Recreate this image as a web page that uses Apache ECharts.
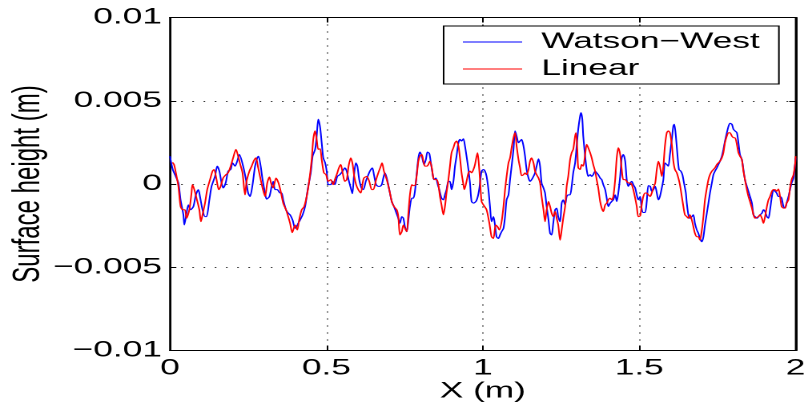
<!DOCTYPE html>
<html>
<head>
<meta charset="utf-8">
<script src="https://cdn.jsdelivr.net/npm/echarts@6/dist/echarts.min.js"></script>
<style>
  html, body { margin: 0; padding: 0; background: #fff; overflow: hidden; }
  /* The figure is laid out narrow and widened horizontally, like a stretched MATLAB export */
  #chart { width: 502px; height: 407px; transform: scaleX(1.6016); transform-origin: 0 0; }
</style>
</head>
<body>
<div id="chart"></div>
<script>
// Axis ranges and tick spacing (metres)
const xRange = [0, 2];
const xStep = 0.5;
const yRange = [-0.01, 0.01];
const yStep = 0.005;

const seriesNames = ['Watson\u2212West', 'Linear'];

// Surface height profile from the Watson-West model: [x (m), height (m)]
const watsonWest = [
  [0.000,0.00167],[0.009,0.00087],[0.016,0.00056],[0.027,0.00006],[0.034,-0.00095],[0.043,-0.00185],[0.046,-0.00246],[0.053,-0.00175],[0.059,-0.00125],[0.066,-0.00155],[0.075,-0.00135],[0.083,-0.00065],[0.091,-0.00034],[0.096,-0.00075],[0.104,-0.00155],[0.112,-0.00196],[0.117,-0.00196],[0.126,-0.00095],[0.133,-0.00014],[0.144,0.00046],[0.151,0.00107],[0.158,0.00077],[0.165,0.00006],[0.170,-0.00024],[0.178,0.00006],[0.186,0.00077],[0.194,0.00087],[0.200,0.00127],[0.208,0.00107],[0.215,0.00137],[0.222,0.00177],
  [0.234,0.00107],[0.243,0.00026],[0.250,-0.00054],[0.256,-0.00075],[0.264,-0.00004],[0.272,0.00107],[0.279,0.00157],[0.283,0.00167],[0.290,0.00107],[0.296,0.00026],[0.304,-0.00054],[0.309,-0.00091],[0.318,-0.00075],[0.325,-0.00014],[0.330,0.00016],[0.336,-0.00034],[0.343,-0.00034],[0.352,-0.00054],[0.357,-0.00054],[0.362,-0.00095],[0.371,-0.00155],[0.378,-0.00175],[0.384,-0.00185],[0.392,-0.00216],[0.400,-0.00266],[0.405,-0.00256],[0.410,-0.00236],[0.416,-0.00216],[0.424,-0.00185],[0.432,-0.00135],[0.437,-0.00075],[0.442,-0.00014],[0.450,0.00067],[0.456,0.00167],[0.464,0.00208],[0.469,0.00288],[0.474,0.00389],
  [0.480,0.00340],[0.485,0.00248],[0.490,0.00157],[0.496,0.00127],[0.501,0.00077],[0.506,-0.00004],[0.514,-0.00004],[0.520,0.00016],[0.527,-0.00004],[0.535,0.00046],[0.543,0.00056],[0.552,0.00077],[0.559,0.00097],[0.565,0.00077],[0.571,0.00026],[0.578,-0.00024],[0.583,-0.00058],[0.588,0.00046],[0.594,0.00127],[0.599,0.00107],[0.605,0.00026],[0.612,-0.00024],[0.618,-0.00034],[0.626,0.00016],[0.632,0.00046],[0.639,0.00077],[0.647,0.00097],[0.652,0.00056],[0.659,-0.00004],[0.666,-0.00014],[0.671,-0.00014],[0.677,-0.00004],[0.682,0.00036],[0.687,0.00067],[0.693,0.00036],[0.701,-0.00034],[0.709,-0.00105],[0.716,-0.00135],[0.722,-0.00165],[0.730,-0.00206],
  [0.735,-0.00236],[0.741,-0.00196],[0.746,-0.00206],[0.751,-0.00256],[0.757,-0.00286],[0.762,-0.00216],[0.767,-0.00135],[0.773,-0.00085],[0.778,-0.00085],[0.783,-0.00044],[0.789,0.00067],[0.794,0.00157],[0.799,0.00192],[0.805,0.00167],[0.812,0.00117],[0.818,0.00147],[0.823,0.00192],[0.829,0.00183],[0.834,0.00127],[0.840,0.00056],[0.844,0.00026],[0.850,0.00036],[0.856,-0.00004],[0.861,-0.00034],[0.868,-0.00085],[0.874,-0.00095],[0.879,-0.00065],[0.884,-0.00034],[0.890,0.00016],[0.895,0.00016],[0.900,-0.00034],[0.906,0.00016],[0.911,0.00107],[0.916,0.00167],[0.922,0.00248],[0.927,0.00268],[0.932,0.00258],[0.938,0.00272],[0.943,0.00228],[0.948,0.00167],[0.954,0.00087],[0.959,0.00006],[0.964,-0.00105],[0.970,-0.00115],[0.978,-0.00105],[0.984,-0.00075],[0.989,-0.00024],
  [0.996,0.00077],[1.002,0.00087],[1.007,0.00077],[1.012,0.00046],[1.018,-0.00034],[1.023,-0.00135],[1.028,-0.00226],[1.034,-0.00196],[1.039,-0.00246],[1.044,-0.00317],[1.050,-0.00327],[1.055,-0.00306],[1.060,-0.00286],[1.066,-0.00266],[1.071,-0.00196],[1.076,-0.00095],[1.082,-0.00065],[1.087,0.00026],[1.092,0.00107],[1.098,0.00208],[1.103,0.00319],[1.108,0.00288],[1.114,0.00248],[1.119,0.00258],[1.124,0.00268],[1.130,0.00228],[1.135,0.00167],[1.140,0.00087],[1.146,0.00036],[1.151,0.00016],[1.156,0.00026],[1.162,0.00046],[1.167,0.00067],[1.172,0.00107],[1.178,0.00151],[1.183,0.00107],[1.188,0.00006],[1.194,-0.00024],[1.199,-0.00054],[1.204,-0.00135],[1.210,-0.00216],[1.215,-0.00296],[1.220,-0.00306],[1.225,-0.00236],[1.231,-0.00155],[1.236,-0.00145],[1.241,-0.00196],
  [1.247,-0.00226],[1.252,-0.00115],[1.257,-0.00095],[1.263,-0.00125],[1.268,-0.00075],[1.273,-0.00065],[1.279,-0.00065],[1.284,-0.00014],[1.289,0.00067],[1.295,0.00127],[1.300,0.00228],[1.305,0.00329],[1.311,0.00409],[1.314,0.00429],[1.318,0.00389],[1.321,0.00288],[1.327,0.00167],[1.332,0.00087],[1.337,0.00046],[1.343,0.00056],[1.348,0.00046],[1.353,0.00056],[1.359,0.00077],[1.364,0.00067],[1.369,0.00056],[1.375,0.00036],[1.380,0.00026],[1.385,-0.00004],[1.391,-0.00034],[1.396,-0.00085],[1.401,-0.00135],[1.407,-0.00115],[1.412,-0.00105],[1.417,-0.00095],[1.423,-0.00065],[1.428,-0.00105],[1.433,-0.00054],[1.439,0.00046],[1.444,0.00157],[1.449,0.00177],[1.455,0.00137],[1.460,0.00026],[1.465,-0.00014],[1.471,0.00006],[1.476,0.00016],[1.481,-0.00004],[1.487,-0.00024],[1.492,-0.00065],[1.497,-0.00095],
  [1.503,-0.00075],[1.508,-0.00151],[1.513,-0.00171],[1.519,-0.00171],[1.524,-0.00105],[1.529,-0.00010],[1.535,-0.00014],[1.540,-0.00044],[1.545,-0.00034],[1.551,-0.00014],[1.556,-0.00054],[1.561,-0.00095],[1.566,-0.00075],[1.572,-0.00024],[1.577,0.00026],[1.582,0.00127],[1.588,0.00117],[1.593,0.00107],[1.598,0.00177],[1.604,0.00268],[1.609,0.00349],[1.612,0.00359],[1.617,0.00288],[1.622,0.00177],[1.627,0.00087],[1.633,0.00077],[1.638,0.00056],[1.643,0.00006],[1.649,-0.00054],[1.652,-0.00115],[1.657,-0.00185],[1.662,-0.00206],[1.668,-0.00196],[1.673,-0.00185],[1.678,-0.00236],[1.684,-0.00276],[1.689,-0.00296],[1.694,-0.00327],[1.700,-0.00347],[1.705,-0.00317],[1.710,-0.00246],[1.716,-0.00175],[1.721,-0.00115],[1.726,-0.00054],[1.732,0.00006],[1.737,0.00056],[1.742,0.00077],[1.748,0.00097],[1.753,0.00117],
  [1.758,0.00137],[1.764,0.00167],[1.769,0.00208],[1.774,0.00258],[1.780,0.00308],[1.785,0.00345],[1.790,0.00365],[1.796,0.00359],[1.801,0.00329],[1.806,0.00319],[1.812,0.00308],[1.817,0.00248],[1.822,0.00177],[1.828,0.00147],[1.833,0.00087],[1.838,0.00026],[1.844,-0.00014],[1.849,-0.00044],[1.854,-0.00075],[1.860,-0.00115],[1.865,-0.00185],[1.870,-0.00196],[1.876,-0.00206],[1.881,-0.00196],[1.886,-0.00185],[1.892,-0.00175],[1.897,-0.00155],[1.902,-0.00165],[1.908,-0.00196],[1.913,-0.00206],[1.918,-0.00155],[1.924,-0.00075],[1.929,-0.00034],[1.934,-0.00044],[1.939,-0.00054],[1.945,-0.00075],[1.950,-0.00075],[1.955,-0.00085],[1.961,-0.00135],[1.966,-0.00145],[1.971,-0.00115],[1.977,-0.00075],[1.982,-0.00034],[1.987,0.00006],[1.993,0.00036],[1.998,0.00117],[2.000,0.00157]
];

// Surface height profile from linear wave theory: [x (m), height (m)]
const linear = [
  [0.008,0.00130],[0.013,0.00117],[0.019,0.00067],[0.027,-0.00014],[0.034,-0.00135],[0.041,-0.00155],[0.048,-0.00155],[0.053,-0.00206],[0.062,-0.00155],[0.069,-0.00054],[0.072,-0.00004],[0.078,-0.00034],[0.085,-0.00085],[0.094,-0.00155],[0.099,-0.00226],[0.104,-0.00185],[0.112,-0.00115],[0.119,-0.00034],[0.128,0.00026],[0.136,0.00077],[0.141,0.00087],[0.149,0.00026],[0.156,-0.00034],[0.162,-0.00014],[0.170,0.00036],[0.179,0.00056],[0.186,0.00067],[0.194,0.00107],[0.202,0.00157],[0.211,0.00208],[0.218,0.00167],
  [0.224,0.00123],[0.232,0.00067],[0.240,-0.00065],[0.245,0.00016],[0.254,0.00077],[0.261,0.00107],[0.269,0.00143],[0.275,0.00157],[0.282,0.00097],[0.290,0.00026],[0.296,-0.00024],[0.304,-0.00075],[0.311,0.00006],[0.318,0.00042],[0.323,0.00006],[0.330,-0.00024],[0.339,0.00036],[0.347,0.00006],[0.354,-0.00044],[0.362,-0.00115],[0.371,-0.00155],[0.378,-0.00196],[0.384,-0.00236],[0.391,-0.00292],[0.400,-0.00246],[0.407,-0.00276],[0.413,-0.00216],[0.421,-0.00155],[0.429,-0.00135],[0.437,-0.00075],[0.445,0.00016],[0.453,0.00147],[0.458,0.00268],[0.464,0.00319],[0.469,0.00268],[0.474,0.00208],
  [0.480,0.00212],[0.485,0.00147],[0.492,0.00067],[0.499,0.00056],[0.506,0.00016],[0.514,0.00026],[0.522,-0.00004],[0.527,0.00026],[0.535,0.00067],[0.540,0.00097],[0.546,0.00117],[0.552,0.00067],[0.559,0.00016],[0.565,0.00026],[0.571,0.00107],[0.578,0.00157],[0.584,0.00117],[0.589,0.00046],[0.595,-0.00004],[0.602,-0.00034],[0.610,-0.00054],[0.616,0.00006],[0.620,0.00036],[0.629,0.00046],[0.637,0.00016],[0.645,-0.00034],[0.650,-0.00034],[0.659,0.00026],[0.666,0.00067],[0.674,0.00107],[0.678,0.00127],[0.684,0.00077],[0.693,0.00026],[0.701,-0.00034],[0.709,-0.00105],[0.716,-0.00135],[0.725,-0.00155],[0.730,-0.00196],
  [0.735,-0.00306],[0.741,-0.00286],[0.746,-0.00246],[0.751,-0.00266],[0.757,-0.00286],[0.762,-0.00175],[0.767,-0.00065],[0.773,-0.00004],[0.778,-0.00010],[0.783,-0.00010],[0.789,0.00056],[0.794,0.00137],[0.799,0.00167],[0.805,0.00177],[0.810,0.00137],[0.815,0.00107],[0.821,0.00107],[0.826,0.00117],[0.831,0.00137],[0.837,0.00097],[0.842,0.00036],[0.847,0.00026],[0.853,0.00026],[0.858,-0.00004],[0.863,-0.00075],[0.868,-0.00125],[0.874,-0.00185],[0.879,-0.00135],[0.884,-0.00054],[0.890,0.00026],[0.895,0.00107],[0.900,0.00188],[0.906,0.00218],[0.911,0.00248],[0.916,0.00258],[0.922,0.00228],[0.927,0.00157],[0.932,0.00067],[0.938,-0.00004],[0.941,-0.00034],[0.948,0.00016],[0.954,0.00067],[0.959,0.00077],[0.964,0.00067],[0.970,0.00087],[0.975,0.00117],[0.983,0.00188],[0.987,0.00127],[0.991,0.00026],[0.996,-0.00105],
  [1.002,-0.00125],[1.012,-0.00155],[1.021,-0.00236],[1.028,-0.00317],[1.034,-0.00327],[1.041,-0.00246],[1.047,-0.00256],[1.053,-0.00276],[1.060,-0.00226],[1.066,-0.00135],[1.071,-0.00034],[1.076,0.00046],[1.082,0.00127],[1.087,0.00157],[1.092,0.00218],[1.098,0.00278],[1.103,0.00308],[1.108,0.00228],[1.114,0.00147],[1.119,0.00097],[1.124,0.00050],[1.130,0.00056],[1.135,0.00067],[1.140,0.00056],[1.146,0.00087],[1.151,0.00137],[1.156,0.00157],[1.162,0.00127],[1.167,0.00077],[1.172,0.00056],[1.178,0.00036],[1.183,0.00006],[1.188,-0.00075],[1.194,-0.00155],[1.199,-0.00226],[1.204,-0.00155],[1.210,-0.00105],[1.215,-0.00135],[1.220,-0.00175],[1.225,-0.00196],[1.231,-0.00165],[1.236,-0.00206],[1.241,-0.00246],
  [1.247,-0.00337],[1.252,-0.00276],[1.257,-0.00206],[1.263,-0.00135],[1.268,-0.00014],[1.273,0.00046],[1.279,0.00147],[1.284,0.00188],[1.289,0.00208],[1.295,0.00288],[1.298,0.00308],[1.302,0.00208],[1.305,0.00097],[1.311,0.00087],[1.316,0.00117],[1.321,0.00107],[1.327,0.00177],[1.332,0.00238],[1.337,0.00218],[1.343,0.00188],[1.348,0.00157],[1.353,0.00117],[1.359,0.00077],[1.364,0.00026],[1.369,-0.00024],[1.375,-0.00105],[1.380,-0.00145],[1.385,-0.00165],[1.391,-0.00125],[1.396,-0.00115],[1.401,-0.00095],[1.407,-0.00085],[1.412,-0.00095],[1.417,-0.00075],[1.423,0.00026],[1.428,0.00157],[1.433,0.00218],[1.439,0.00177],[1.444,0.00087],[1.449,0.00026],[1.455,0.00026],[1.460,0.00016],[1.465,0.00006],[1.471,0.00006],[1.476,-0.00004],[1.481,-0.00034],[1.487,-0.00085],[1.492,-0.00135],[1.497,-0.00196],
  [1.503,-0.00192],[1.508,-0.00125],[1.513,-0.00075],[1.519,-0.00054],[1.524,-0.00054],[1.529,-0.00065],[1.535,-0.00075],[1.540,-0.00054],[1.545,-0.00024],[1.551,0.00006],[1.556,0.00087],[1.561,0.00137],[1.566,0.00107],[1.572,0.00046],[1.577,0.00107],[1.582,0.00228],[1.588,0.00308],[1.593,0.00319],[1.598,0.00308],[1.604,0.00238],[1.609,0.00137],[1.614,0.00087],[1.620,0.00067],[1.625,0.00036],[1.630,-0.00004],[1.636,-0.00075],[1.641,-0.00135],[1.646,-0.00185],[1.652,-0.00196],[1.657,-0.00206],[1.662,-0.00185],[1.668,-0.00216],[1.673,-0.00256],[1.678,-0.00296],[1.684,-0.00317],[1.689,-0.00317],[1.694,-0.00337],[1.700,-0.00276],[1.705,-0.00196],[1.710,-0.00095],[1.716,-0.00024],[1.721,0.00026],[1.726,0.00056],[1.732,0.00077],[1.737,0.00087],[1.742,0.00097],[1.748,0.00117],[1.753,0.00127],
  [1.758,0.00137],[1.764,0.00157],[1.769,0.00188],[1.774,0.00248],[1.780,0.00288],[1.785,0.00308],[1.790,0.00308],[1.796,0.00288],[1.801,0.00278],[1.806,0.00278],[1.812,0.00238],[1.817,0.00188],[1.822,0.00167],[1.828,0.00147],[1.833,0.00077],[1.838,0.00026],[1.844,-0.00034],[1.849,-0.00075],[1.854,-0.00105],[1.860,-0.00145],[1.865,-0.00185],[1.870,-0.00206],[1.876,-0.00200],[1.881,-0.00196],[1.886,-0.00185],[1.892,-0.00206],[1.897,-0.00236],[1.902,-0.00196],[1.908,-0.00135],[1.913,-0.00095],[1.918,-0.00075],[1.924,-0.00044],[1.929,-0.00034],[1.934,-0.00034],[1.939,-0.00044],[1.945,-0.00030],[1.950,-0.00075],[1.955,-0.00135],[1.961,-0.00145],[1.966,-0.00145],[1.971,-0.00115],[1.977,-0.00095],[1.982,-0.00024],[1.987,0.00026],[1.993,0.00056],[1.998,0.00117],[2.000,0.00167]
];

const FONT = '"Liberation Sans", Arial, Helvetica, sans-serif';
const gridDots = { color: '#333', width: 1, type: [1, 6] };

// Negative numbers are printed with a true minus sign
function tickText(v) {
  const r = Math.round(v * 1000) / 1000;
  return String(r === 0 ? 0 : r).replace('-', '\u2212');
}

const chart = echarts.init(document.getElementById('chart'), null, { renderer: 'canvas', devicePixelRatio: 2 });

chart.setOption({
  animation: false,
  backgroundColor: '#fff',
  textStyle: { fontFamily: FONT, color: '#000' },
  grid: {
    left: 106.1, right: 5.2, top: 17.5, bottom: 56.5,
    containLabel: false,
    outerBoundsMode: 'none',
    show: true, borderColor: '#000', borderWidth: 1, backgroundColor: 'transparent'
  },
  legend: {
    data: seriesNames,
    orient: 'vertical',
    left: 277, top: 26,
    padding: [5, 12, 4, 12],
    itemGap: 5,
    itemWidth: 37,
    itemHeight: 1,
    icon: 'rect',
    backgroundColor: '#fff',
    borderColor: '#000',
    borderWidth: 1,
    borderRadius: 0,
    textStyle: { fontFamily: FONT, fontSize: 22, color: '#000', lineHeight: 22, padding: [0, 0, 0, 7] }
  },
  xAxis: [{
    type: 'value', min: xRange[0], max: xRange[1], interval: xStep,
    name: 'X (m)', nameLocation: 'middle', nameGap: 30,
    nameMoveOverlap: false,
    nameTextStyle: { fontFamily: FONT, fontSize: 22, color: '#000' },
    axisLine: { show: true, onZero: false, lineStyle: { color: '#000', width: 1 } },
    axisTick: { show: true, inside: true, length: 5, lineStyle: { color: '#000' } },
    axisLabel: { fontFamily: FONT, fontSize: 22, color: '#000', margin: 7 },
    splitLine: { show: true, lineStyle: gridDots }
  }, {
    type: 'value', position: 'top', min: xRange[0], max: xRange[1], interval: xStep,
    axisLine: { show: true, onZero: false, lineStyle: { color: '#000', width: 1 } },
    axisTick: { show: true, inside: true, length: 5, lineStyle: { color: '#000' } },
    axisLabel: { show: false },
    splitLine: { show: false }
  }],
  yAxis: [{
    type: 'value', min: yRange[0], max: yRange[1], interval: yStep,
    name: 'Surface height (m)', nameLocation: 'middle', nameGap: 76,
    nameMoveOverlap: false,
    nameTextStyle: { fontFamily: FONT, fontSize: 24, color: '#000' },
    axisLine: { show: true, onZero: false, lineStyle: { color: '#000', width: 1 } },
    axisTick: { show: true, inside: true, length: 4, lineStyle: { color: '#000' } },
    axisLabel: { fontFamily: FONT, fontSize: 22, color: '#000', margin: 5, formatter: tickText },
    splitLine: { show: true, lineStyle: gridDots }
  }, {
    type: 'value', position: 'right', min: yRange[0], max: yRange[1], interval: yStep,
    axisLine: { show: true, onZero: false, lineStyle: { color: '#000', width: 1 } },
    axisTick: { show: true, inside: true, length: 4, lineStyle: { color: '#000' } },
    axisLabel: { show: false },
    splitLine: { show: false }
  }],
  series: [{
    name: seriesNames[0],
    type: 'line',
    data: watsonWest,
    symbol: 'none',
    smooth: 0.25,
    lineStyle: { color: '#0000ff', width: 1 },
    itemStyle: { color: '#0000ff' },
    z: 2
  }, {
    name: seriesNames[1],
    type: 'line',
    data: linear,
    symbol: 'none',
    smooth: 0.25,
    lineStyle: { color: '#ff0000', width: 1 },
    itemStyle: { color: '#ff0000' },
    z: 3
  }]
});
</script>
</body>
</html>
